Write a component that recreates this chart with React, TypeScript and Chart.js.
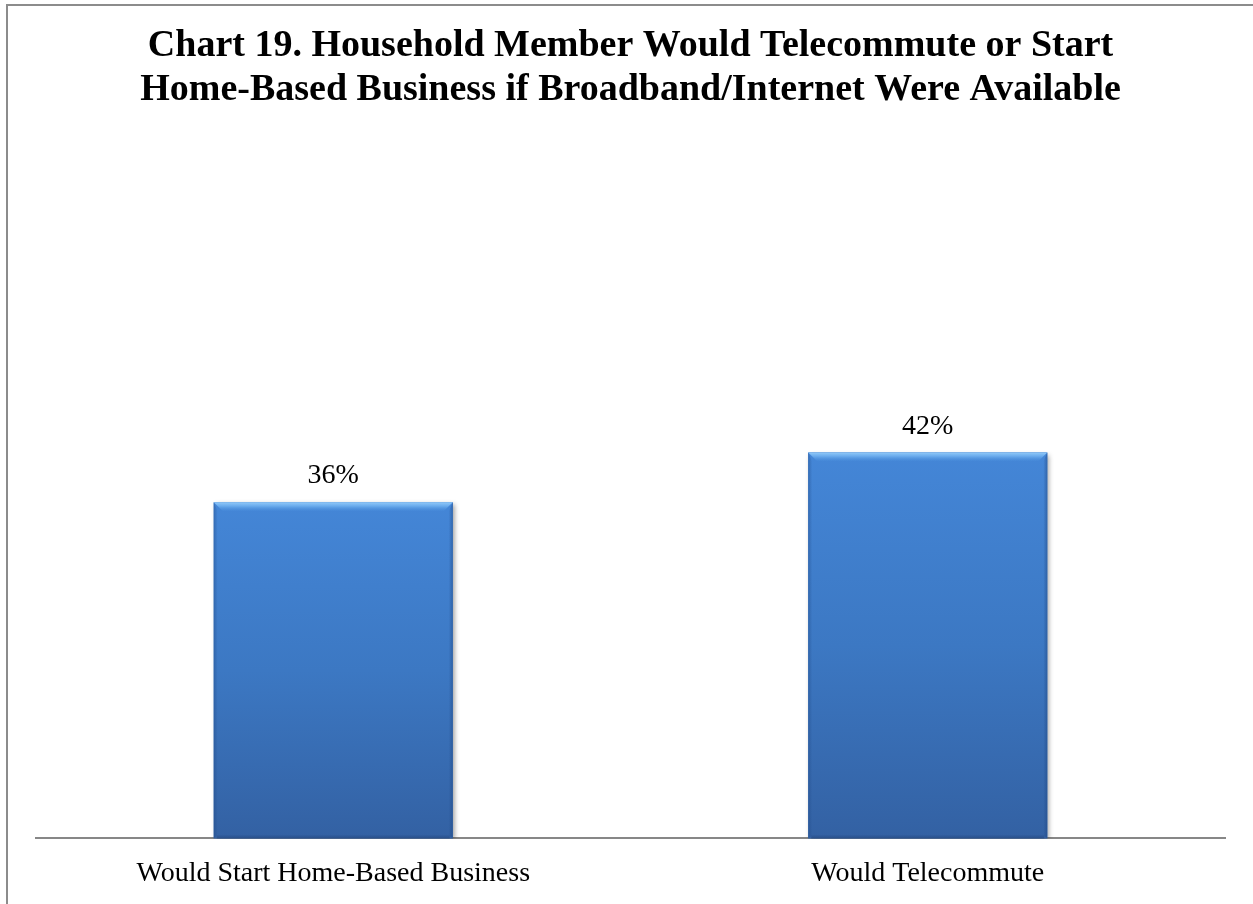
import React, { useEffect, useRef } from "react";
import { Chart, registerables } from "chart.js";
Chart.register(...registerables);

const titleLines = [
  "Chart 19. Household Member Would Telecommute or Start",
  "Home-Based Business if Broadband/Internet Were Available",
];
const categories = ["Would Start Home-Based Business", "Would Telecommute"];
const values = [36.4, 41.8];
const yMax = 75;

const SERIF = "'Liberation Serif', 'Times New Roman', serif";

const bevelPlugin = {
  id: "bevel",
  beforeDatasetDraw(chart: any) {
    const ctx = chart.ctx;
    ctx.save();
    ctx.shadowColor = "rgba(0,0,0,0.4)";
    ctx.shadowBlur = 5;
    ctx.shadowOffsetX = 2;
    ctx.shadowOffsetY = 2;
  },
  afterDatasetDraw(chart: any) {
    const ctx = chart.ctx;
    ctx.restore();
    const meta = chart.getDatasetMeta(0);
    meta.data.forEach((bar: any) => {
      const { x, y, base, width } = bar.getProps(["x", "y", "base", "width"], true);
      if (![x, y, base, width].every((n) => Number.isFinite(n))) return;
      const l = x - width / 2;
      const r = x + width / 2;
      const t = y;
      const b = base;
      const bv = 9;
      const sv = 4;
      ctx.save();
      // body gradient
      let g = ctx.createLinearGradient(0, t, 0, b);
      g.addColorStop(0, "#4486d7");
      g.addColorStop(0.5, "#3c78c3");
      g.addColorStop(1, "#3361a3");
      ctx.fillStyle = g;
      ctx.fillRect(l, t, width, b - t);
      // top bevel
      g = ctx.createLinearGradient(0, t, 0, t + bv);
      g.addColorStop(0, "rgba(150,205,250,0.95)");
      g.addColorStop(0.4, "rgba(120,185,245,0.75)");
      g.addColorStop(1, "rgba(80,150,225,0.05)");
      ctx.fillStyle = g;
      ctx.beginPath();
      ctx.moveTo(l, t);
      ctx.lineTo(r, t);
      ctx.lineTo(r - bv, t + bv);
      ctx.lineTo(l + bv, t + bv);
      ctx.closePath();
      ctx.fill();
      // left bevel
      g = ctx.createLinearGradient(l, 0, l + sv, 0);
      g.addColorStop(0, "rgba(30,70,130,0.4)");
      g.addColorStop(1, "rgba(30,70,130,0)");
      ctx.fillStyle = g;
      ctx.beginPath();
      ctx.moveTo(l, t);
      ctx.lineTo(l + sv, t + bv);
      ctx.lineTo(l + sv, b - 3);
      ctx.lineTo(l, b);
      ctx.closePath();
      ctx.fill();
      // right bevel
      g = ctx.createLinearGradient(r, 0, r - sv, 0);
      g.addColorStop(0, "rgba(30,70,130,0.5)");
      g.addColorStop(1, "rgba(30,70,130,0)");
      ctx.fillStyle = g;
      ctx.beginPath();
      ctx.moveTo(r, t);
      ctx.lineTo(r - sv, t + bv);
      ctx.lineTo(r - sv, b - 3);
      ctx.lineTo(r, b);
      ctx.closePath();
      ctx.fill();
      // bottom bevel
      g = ctx.createLinearGradient(0, b, 0, b - 4);
      g.addColorStop(0, "rgba(30,60,110,0.5)");
      g.addColorStop(1, "rgba(30,60,110,0)");
      ctx.fillStyle = g;
      ctx.fillRect(l + 3, b - 4, width - 6, 4);
      ctx.restore();
    });
  },
  afterDatasetsDraw(chart: any) {
    const ctx = chart.ctx;
    const meta = chart.getDatasetMeta(0);
    ctx.save();
    ctx.font = `28px ${SERIF}`;
    ctx.fillStyle = "#000";
    ctx.textAlign = "center";
    ctx.textBaseline = "alphabetic";
    meta.data.forEach((bar: any, i: number) => {
      const v = chart.data.datasets[0].data[i] as number;
      ctx.fillText(`${Math.round(v)}%`, bar.x, bar.y - 19);
    });
    ctx.restore();
  },
};

export default function App() {
  const ref = useRef<HTMLCanvasElement>(null);
  useEffect(() => {
    if (!ref.current) return;
    const chart = new Chart(ref.current, {
      type: "bar",
      data: {
        labels: categories,
        datasets: [
          {
            data: values,
            backgroundColor: "#3c78c3",
            borderWidth: 0,
            barPercentage: 0.402,
            categoryPercentage: 1,
          },
        ],
      },
      options: {
        responsive: false,
        animation: false,
        layout: { padding: { left: 36, right: 28, top: 0, bottom: 4 } },
        plugins: {
          legend: { display: false },
          tooltip: { enabled: false },
          title: {
            display: true,
            text: titleLines,
            color: "#000",
            font: { family: SERIF, size: 38, weight: "bold", lineHeight: 1.158 },
            padding: { top: 24, bottom: 34 },
          },
        },
        scales: {
          x: {
            grid: { display: false },
            border: { display: true, color: "#878787", width: 2 },
            ticks: {
              color: "#000",
              font: { family: SERIF, size: 28 },
              padding: 10,
              maxRotation: 0,
              autoSkip: false,
            },
          },
          y: {
            display: false,
            min: 0,
            max: yMax,
          },
        },
      },
      plugins: [bevelPlugin],
    });
    return () => chart.destroy();
  }, []);

  return (
    <div style={{ position: "fixed", left: 0, top: 0, width: 1253, height: 904, background: "#fff", overflow: "hidden" }}>
      <div
        style={{
          position: "absolute",
          left: 6,
          top: 4,
          width: 1253,
          height: 904,
          borderLeft: "2px solid #8c8c8c",
          borderTop: "2px solid #8c8c8c",
        }}
      />
      <canvas ref={ref} width={1253} height={904} style={{ position: "absolute", left: 0, top: 0, display: "block" }} />
    </div>
  );
}
